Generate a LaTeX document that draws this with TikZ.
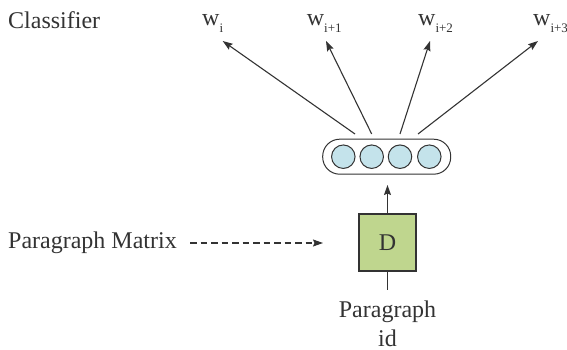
\documentclass[tikz,border=0pt]{standalone}
\usepackage{fontspec}
\setmainfont{Liberation Serif}
\usepackage{xcolor}
\usetikzlibrary{calc, positioning, arrows.meta}

\definecolor{ink}{HTML}{333333}
\definecolor{unitblue}{HTML}{C4E3EB}
\definecolor{paragreen}{HTML}{BFD68E}

% word label with a lowered index
\newcommand{\wlabel}[1]{w\raisebox{-7pt}{\fontsize{13}{13}\selectfont #1}}

\tikzset{
    txt/.style={text=ink, inner sep=0pt, font=\fontsize{24}{29}\selectfont},
    arrow/.style={-{Stealth[length=10pt, width=7pt, inset=1.5pt]}, draw=ink, line width=1.1pt}
}

\begin{document}
\begin{tikzpicture}[
        x=1pt, y=-1pt,
        % Define styles for consistency
        unit/.style={
            circle,
            draw=ink,
            line width=1pt,
            fill=unitblue,
            minimum size=23.5pt,
            inner sep=0pt
        },
        layer/.style={
            rectangle,
            draw=ink,
            line width=1pt,
            rounded corners=17pt,
            minimum width=128pt,
            minimum height=35pt
        },
        matbox/.style={
            rectangle,
            draw=ink,
            line width=1.4pt,
            fill=paragreen,
            minimum size=57pt,
            inner sep=0pt,
            font=\fontsize{24}{29}\selectfont,
            text=ink
        },
        connector/.style={
            draw=ink,
            line width=1.1pt
        }
    ]

    \useasboundingbox (0,0) rectangle (567,350);

    % --- HIDDEN LAYER ---
    \node[layer] (hidden) at (386.7,156.7) {};
    \node[unit] (h1) at (343.3,156.7) {};
    \node[unit] (h2) at (371.7,156.7) {};
    \node[unit] (h3) at (400,156.7) {};
    \node[unit] (h4) at (429.3,156.7) {};

    % --- CLASSIFIER OUTPUTS ---
    \node[txt, anchor=west] (cls) at (8,20) {Classifier};

    \node[txt, anchor=base west] (w1) at (202,26) {\wlabel{i}};
    \node[txt, anchor=base west] (w2) at (306.7,26) {\wlabel{i+1}};
    \node[txt, anchor=base west] (w3) at (418,26) {\wlabel{i+2}};
    \node[txt, anchor=base west] (w4) at (533,26) {\wlabel{i+3}};

    % arrow ends just below the labels
    \coordinate (t1) at (222.7,41);
    \coordinate (t2) at (326,41);
    \coordinate (t3) at (430,41);
    \coordinate (t4) at (538,41);

    % starting points on top of the layer
    \coordinate (s1) at (355,134);
    \coordinate (s2) at (371.7,134);
    \coordinate (s3) at (400,134);
    \coordinate (s4) at (418,134);

    \draw[arrow] (s1) -- (t1);
    \draw[arrow] (s2) -- (t2);
    \draw[arrow] (s3) -- (t3);
    \draw[arrow] (s4) -- (t4);

    % --- PARAGRAPH VECTOR ---
    \node[matbox] (D) at (387.5,242.5) {D};
    \coordinate (up) at (387.5,185);
    \draw[arrow] (D.north) -- (up);

    % Paragraph id input
    \coordinate (idend) at (387.5,290);
    \draw[connector] (D.south) -- (idend);
    \node[txt, align=center, anchor=north] (pid) at (387.5,301) {Paragraph\\id};

    % Paragraph matrix lookup
    \node[txt, anchor=west] (pmat) at (8,243) {Paragraph Matrix};
    \coordinate (dstart) at (190,243);
    \coordinate (dtip) at (323,243);
    \draw[arrow, dash pattern=on 6.5pt off 4pt] (dstart) -- (dtip);

\end{tikzpicture}
\end{document}
